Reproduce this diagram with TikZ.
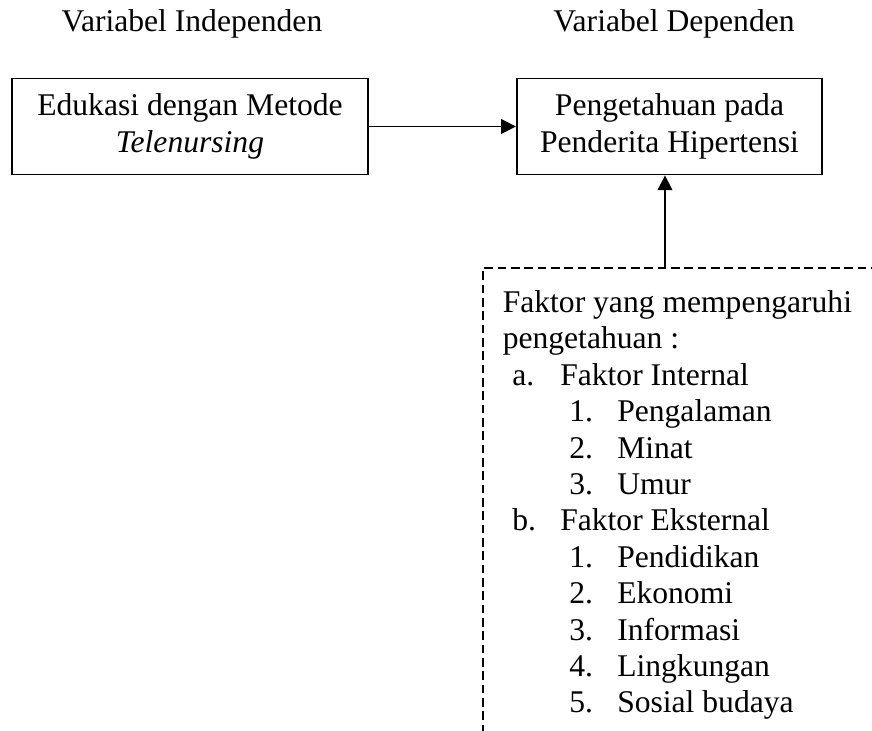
\documentclass[tikz,border=0pt]{standalone}
\usepackage{fontspec}
\setmainfont{Liberation Serif}
\usetikzlibrary{arrows.meta,positioning}
\tikzset{
  varbox/.style={draw,line width=1.4pt,minimum width=267pt,minimum height=72pt,inner sep=0pt,align=center},
  conn/.style={line width=1.1pt,-{Triangle[length=11pt,width=11pt]}},
  lbl/.style={anchor=base west,inner sep=0pt}
}
\begin{document}
\begin{tikzpicture}[x=0.75pt,y=-0.75pt,font=\fontsize{23.7}{27.3}\selectfont]
\useasboundingbox (0,0) rectangle (872,731);
\clip (0,0) rectangle (872,731);
% judul kolom
\node[anchor=base] (hind) at (192,31.5) {Variabel Independen};
\node[anchor=base] (hdep) at (674,31.5) {Variabel Dependen};
% variabel
\node[varbox] (indep) at (190,126.5) {Edukasi dengan Metode\\\textit{Telenursing}};
\node[varbox,minimum width=229pt] (dep) at (669.5,126.5) {Pengetahuan pada\\Penderita Hipertensi};
\draw[conn] (indep.east) -- (dep.west);
% faktor (kotak terpotong)
\draw[dashed,dash pattern=on 6.5pt off 3.5pt,line width=1.2pt] (483,760) -- (483,268) -- (900,268);
\coordinate (ftop) at (665,268);
\draw[conn] (ftop) -- (ftop |- dep.south);
\node[lbl] (f0) at (502.5,312.5) {Faktor yang mempengaruhi};
\node[lbl] (f1) at (502.5,348.9) {pengetahuan :};
\foreach \k/\m/\t in {2/a./Faktor Internal,6/b./Faktor Eksternal}{
  \node[lbl] (m\k) at (512,{312.5+36.4*\k}) {\m};
  \node[lbl] (t\k) at (560,{312.5+36.4*\k}) {\t};
}
\foreach \k/\m/\t in {3/1./Pengalaman,4/2./Minat,5/3./Umur,7/1./Pendidikan,8/2./Ekonomi,9/3./Informasi,10/4./Lingkungan,11/5./Sosial budaya}{
  \node[lbl] (m\k) at (569,{312.5+36.4*\k}) {\m};
  \node[lbl] (t\k) at (617,{312.5+36.4*\k}) {\t};
}
\end{tikzpicture}
\end{document}
